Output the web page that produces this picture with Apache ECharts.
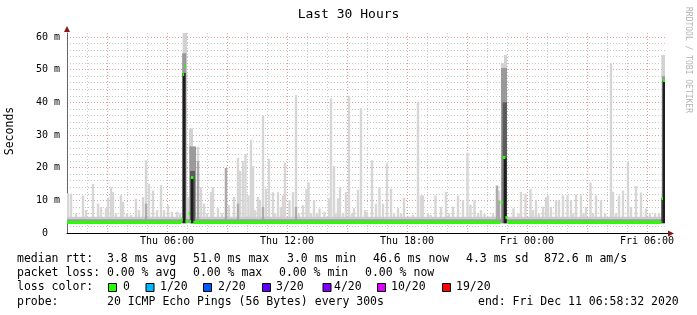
<!DOCTYPE html>
<html>
<head>
<meta charset="utf-8">
<script src="https://cdn.jsdelivr.net/npm/echarts@6/dist/echarts.min.js"></script>
<style>
  html, body { margin: 0; padding: 0; background: #fff; }
  #chart { width: 697px; height: 315px; }
</style>
</head>
<body>
<div id="chart"></div>
<script>
// x is hours since Thu 00:00, y is rtt in ms
const MONO = 'DejaVu Sans Mono'
const MIN_RTT = 3.0
const SPIKE_W = 0.12

// light smoke spikes: [hour, max rtt]
const smokeSpikes = [
  [1.05, 12.2], [1.2, 12], [1.45, 6], [1.8, 11.5], [1.95, 7], [2.3, 15], [2.55, 9], [2.7, 8],
  [2.95, 7.6], [3.05, 10.8], [3.2, 14], [3.3, 12.5], [3.45, 6], [3.7, 11.6], [3.8, 9.5], [4.0, 6],
  [4.2, 5.5], [4.45, 10.5], [4.6, 7], [4.8, 11], [4.95, 22.3], [5.1, 15], [5.3, 13], [5.5, 7],
  [5.7, 14.6], [5.85, 7], [6.05, 8.5], [6.25, 6.5], [6.5, 6.5], [6.65, 6], [7.05, 11], [7.55, 26.4],
  [7.7, 14], [7.85, 9], [8.0, 6], [8.2, 12.6], [8.3, 14], [8.55, 7.7], [8.75, 6], [8.95, 19.9],
  [9.1, 8.5], [9.35, 11], [9.55, 23], [9.65, 19], [9.8, 22], [9.925, 24.2], [10.075, 11.5], [10.2, 28.5],
  [10.3, 20.5], [10.4, 7], [10.55, 11], [10.65, 10], [10.8, 36], [10.95, 13.6], [11.1, 22.7], [11.3, 12.5],
  [11.4, 6], [11.55, 12.5], [11.7, 8], [11.8, 11.5], [11.9, 21.5], [12.125, 10], [12.3, 12.5], [12.45, 42.2],
  [12.6, 6], [12.8, 8.5], [12.975, 13.5], [13.075, 15.5], [13.2, 6], [13.35, 10], [13.5, 6], [13.625, 7.5],
  [13.875, 6.5], [14.1, 10.6], [14.2, 41.2], [14.35, 20.5], [14.45, 6], [14.55, 10.6], [14.65, 14], [14.8, 6],
  [14.95, 12.5], [15.1, 42], [15.25, 6], [15.35, 7.6], [15.55, 13.2], [15.7, 38.2], [15.9, 7], [16.0, 6.5],
  [16.25, 22.3], [16.45, 9], [16.625, 14], [16.8, 9], [17.0, 21.3], [17.2, 13.5], [17.35, 6], [17.55, 7.6],
  [17.7, 6], [17.85, 10.8], [18.1, 5], [18.3, 5.6], [18.55, 40.2], [18.7, 11.5], [18.8, 11.5], [19.05, 6],
  [19.2, 5.5], [19.425, 11.4], [19.7, 8], [19.95, 12.6], [20.1, 6], [20.3, 8], [20.55, 11.5], [20.8, 10],
  [21.025, 24.6], [21.175, 8.7], [21.375, 10], [21.55, 6], [21.7, 7], [21.875, 5.8], [22.1, 5], [22.3, 6],
  [22.5, 14.5], [22.6, 13], [23.325, 7.6], [23.575, 6], [23.7, 12.6], [23.925, 12], [24.175, 13.5], [24.3, 7],
  [24.45, 10], [24.6, 6], [24.8, 8], [24.95, 11], [25.05, 11.5], [25.2, 8], [25.45, 10], [25.6, 10],
  [25.8, 11.5], [26.025, 11.5], [26.2, 10], [26.3, 6], [26.45, 11.8], [26.7, 11.5], [26.825, 6], [26.95, 8],
  [27.175, 15.4], [27.3, 6], [27.45, 11.5], [27.7, 10], [27.9, 6], [28.2, 52], [28.3, 12.6], [28.45, 6],
  [28.6, 11.5], [28.8, 13], [29.05, 21.8], [29.2, 8], [29.45, 14.4], [29.7, 12.4], [29.95, 7.5], [30.15, 6],
  [30.4, 6], [30.6, 6]
]
// darker lower parts of some spikes
const darkSpikes = [
  [4.95, 9], [7.55, 22], [8.95, 19.9], [9.55, 9], [10.8, 8], [12.45, 8], [22.5, 14.5], [22.6, 10]
]

// smoke band around the median: [start, end, low, high]
const smokeBand = [[1.0, 30.9, 3.0, 5.0]]
const smokeBandCore = [[1.0, 30.9, 3.1, 4.2]]

// bursts of high rtt
const burstLight = [[6.78, 7.0, 3.0, 61.6], [7.1, 7.3, 3.0, 32.0], [22.7, 22.85, 3.0, 52.0], [22.85, 23.0, 3.0, 54.5], [30.72, 30.9, 3.0, 54.5]]
const burstMid = [[6.76, 6.96, 3.0, 55.0], [7.12, 7.45, 3.0, 26.5], [22.7, 23.0, 3.0, 50.5], [30.75, 30.9, 3.0, 48.0]]
const burstDark = [[7.15, 7.4, 3.0, 19.0], [22.78, 23.0, 3.0, 40.0]]
const burstCore = [[6.78, 6.93, 3.0, 49.0], [7.2, 7.32, 3.0, 17.0], [22.85, 22.98, 3.0, 23.0], [30.72, 30.78, 3.0, 10.7], [30.78, 30.9, 3.0, 46.6]]

// median rtt: [start, end, ms]
const medianRtt = [
  [1.0, 6.72, 3.35], [6.72, 6.79, 4.1], [6.79, 6.86, 48.4], [6.86, 6.93, 51.0], [6.93, 7.08, 3.5],
  [7.08, 7.15, 6.1], [7.15, 7.2, 3.5], [7.2, 7.32, 17.0], [7.32, 22.68, 3.35], [22.68, 22.78, 9.3],
  [22.78, 22.92, 23.0], [22.92, 23.02, 4.6], [23.02, 30.72, 3.35], [30.72, 30.8, 10.7], [30.8, 30.9, 46.6]
]

const rttStats = ['3.8 ms avg', '51.0 ms max', '3.0 ms min', '46.6 ms now', '4.3 ms sd', '872.6 m am/s']
const lossStats = ['0.00 % avg', '0.00 % max', '0.00 % min', '0.00 % now']
const lossLabels = ['0', '1/20', '2/20', '3/20', '4/20', '10/20', '19/20']
const lossColors = ['#26ff00', '#00b8ff', '#0059ff', '#5e00ff', '#7e00ff', '#dd00ff', '#ff0000']
const probeText = '20 ICMP Echo Pings (56 Bytes) every 300s'
const endText = 'end: Fri Dec 11 06:58:32 2020'

const RED = '#e29b9b'
const GRAY = '#c8c8c8'

function boxRenderer (color) {
  return function (params, api) {
    const a = api.coord([api.value(0), api.value(3)])
    const b = api.coord([api.value(1), api.value(2)])
    return {
      type: 'rect',
      shape: { x: a[0], y: a[1], width: b[0] - a[0], height: b[1] - a[1] },
      style: { fill: color }
    }
  }
}

function boxSeries (name, data, color) {
  return {
    type: 'custom',
    name: name,
    renderItem: boxRenderer(color),
    data: data,
    encode: { x: [0, 1], y: [2, 3] },
    clip: true,
    silent: true
  }
}

function spikeBoxes (list) {
  return list.map(s => [s[0] - SPIKE_W / 2, s[0] + SPIKE_W / 2, MIN_RTT, s[1]])
}

const xLineColors = []
for (let h = 1; h <= 31; h++) xLineColors.push(h % 3 === 0 ? RED : GRAY)
const yLineColors = []
for (let v = 0; v <= 60; v += 2) yLineColors.push(v % 10 === 0 ? RED : GRAY)

function pad (n) { return n < 10 ? '0' + n : '' + n }

const graphics = []
function addText (x, y, text, extra) {
  graphics.push(Object.assign({
    type: 'text', x: x, y: y, silent: true,
    style: { text: text, fontFamily: MONO, fontSize: 11.5, fill: '#000', verticalAlign: 'middle' }
  }, extra || {}))
}

// legend block
addText(17, 259, 'median rtt:')
const rttX = [107, 193, 287, 373, 466, 544]
rttStats.forEach((t, i) => addText(rttX[i], 259, t))
addText(17, 273, 'packet loss:')
const lossX = [107, 193, 279, 365]
lossStats.forEach((t, i) => addText(lossX[i], 273, t))
addText(17, 287, 'loss color:')
const boxX = [108.5, 146, 203.5, 262.5, 323, 377.5, 442.5]
const labelX = [123, 160, 218, 276, 334, 391, 456]
lossLabels.forEach((t, i) => {
  graphics.push({
    type: 'rect', silent: true,
    shape: { x: boxX[i], y: 283.5, width: 8, height: 8 },
    style: { fill: lossColors[i], stroke: '#000', lineWidth: 1 }
  })
  addText(labelX[i], 287, t)
})
addText(17, 302, 'probe:')
addText(107, 302, probeText)
addText(478, 302, endText)

// axis title and watermark
graphics.push({
  type: 'text', x: 10, y: 131, rotation: Math.PI / 2, silent: true,
  style: { text: 'Seconds', fontFamily: MONO, fontSize: 11.5, fill: '#000', align: 'center', verticalAlign: 'middle' }
})
graphics.push({
  type: 'text', x: 688, y: 60, rotation: -Math.PI / 2, silent: true,
  style: { text: 'RRDTOOL / TOBI OETIKER', fontFamily: MONO, fontSize: 8, fill: '#b4b4b4', align: 'center', verticalAlign: 'middle' }
})
// axis arrows
graphics.push({
  type: 'polygon', silent: true,
  shape: { points: [[67, 26], [64, 32], [70, 32]] },
  style: { fill: '#8b1a1a' }
})
graphics.push({
  type: 'line', silent: true,
  shape: { x1: 667, y1: 233.5, x2: 670, y2: 233.5 },
  style: { stroke: '#000', lineWidth: 1 }
})
graphics.push({
  type: 'polygon', silent: true,
  shape: { points: [[674, 233.5], [668, 230.5], [668, 236.5]] },
  style: { fill: '#8b1a1a' }
})

const chart = echarts.init(document.getElementById('chart'), null, { renderer: 'canvas' })
chart.setOption({
  animation: false,
  backgroundColor: '#fff',
  title: {
    text: 'Last 30 Hours',
    left: 'center',
    top: 3,
    textStyle: { fontFamily: MONO, fontSize: 13, fontWeight: 'normal', color: '#000' }
  },
  grid: { left: 67, top: 33, width: 600, height: 200, containLabel: false },
  xAxis: {
    type: 'value',
    min: 1,
    max: 31,
    interval: 1,
    axisLine: { onZero: false, lineStyle: { color: '#000', width: 1 } },
    axisTick: { show: false },
    axisLabel: {
      margin: 3,
      fontFamily: MONO,
      fontSize: 10,
      color: '#000',
      showMinLabel: false,
      showMaxLabel: false,
      formatter: function (h) {
        if (h % 6 !== 0) return ''
        return (h < 24 ? 'Thu ' : 'Fri ') + pad(h % 24) + ':00'
      }
    },
    splitLine: {
      show: true,
      showMinLine: true,
      showMaxLine: false,
      lineStyle: { color: xLineColors, type: [1, 2], width: 1 }
    }
  },
  yAxis: {
    type: 'value',
    min: 0,
    max: 61.22,
    interval: 2,
    axisLine: { show: true, lineStyle: { color: '#666', width: 1 } },
    axisTick: { show: false },
    axisLabel: {
      margin: 7,
      fontFamily: MONO,
      fontSize: 10,
      color: '#000',
      formatter: function (v) {
        if (v % 10 !== 0 || v > 60) return ''
        return v === 0 ? '0  ' : v + ' m'
      }
    },
    splitLine: {
      show: true,
      showMinLine: true,
      showMaxLine: false,
      lineStyle: { color: yLineColors, type: [1, 2], width: 1 }
    }
  },
  series: [
    boxSeries('spikes', spikeBoxes(smokeSpikes), '#d6d6d6'),
    boxSeries('band', smokeBand, '#cdcdcd'),
    boxSeries('burst light', burstLight, '#d2d2d2'),
    boxSeries('burst mid', burstMid, '#9a9a9a'),
    boxSeries('dark spikes', spikeBoxes(darkSpikes), '#ababab'),
    boxSeries('band core', smokeBandCore, '#9c9c9c'),
    boxSeries('burst dark', burstDark, '#5c5c5c'),
    boxSeries('burst core', burstCore, '#1e1e1e'),
    {
      type: 'custom',
      name: 'median rtt',
      data: medianRtt,
      encode: { x: [0, 1], y: 2 },
      clip: true,
      silent: true,
      renderItem: function (params, api) {
        const a = api.coord([api.value(0), api.value(2)])
        const b = api.coord([api.value(1), api.value(2)])
        return {
          type: 'rect',
          shape: { x: a[0], y: Math.round(a[1] - 1.5), width: b[0] - a[0], height: 3 },
          style: { fill: '#26ff00' }
        }
      }
    }
  ],
  graphic: graphics
})
</script>
</body>
</html>
